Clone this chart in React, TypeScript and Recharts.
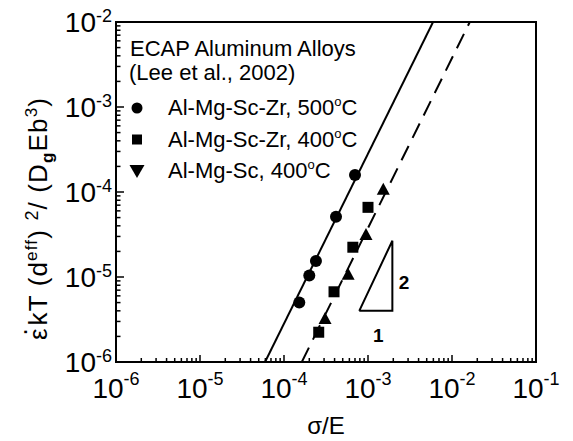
import {
  ComposedChart,
  Line,
  ReferenceArea,
  ReferenceDot,
  Scatter,
  XAxis,
  YAxis,
} from "recharts";

const FONT = '"Liberation Sans", Arial, sans-serif';

// axis decades (tick labels are 10^exp)
const xDecades = [1e-6, 1e-5, 1e-4, 1e-3, 1e-2, 1e-1];
const yDecades = [1e-6, 1e-5, 1e-4, 1e-3, 1e-2];
const minorSteps = [1, 2, 3, 4, 5, 6, 7, 8, 9];

// Lee et al., 2002 - ECAP aluminum alloys
const mgScZr500 = [
  { x: 1.52e-4, y: 5.0e-6 },
  { x: 2.0e-4, y: 1.04e-5 },
  { x: 2.4e-4, y: 1.54e-5 },
  { x: 4.16e-4, y: 5.1e-5 },
  { x: 7.0e-4, y: 1.58e-4 },
];
const mgScZr400 = [
  { x: 2.59e-4, y: 2.24e-6 },
  { x: 3.94e-4, y: 6.7e-6 },
  { x: 6.6e-4, y: 2.24e-5 },
  { x: 1.0e-3, y: 6.6e-5 },
];
const mgSc400 = [
  { x: 3.08e-4, y: 3.2e-6 },
  { x: 5.8e-4, y: 1.06e-5 },
  { x: 9.46e-4, y: 3.12e-5 },
  { x: 1.52e-3, y: 1.06e-4 },
];

// fitted lines, slope 2
const fit500 = [
  { x: 5.95e-5, y: 1e-6 },
  { x: 5.95e-3, y: 1e-2 },
];
const fit400 = [
  { x: 1.63e-4, y: 1e-6 },
  { x: 1.63e-2, y: 1e-2 },
];

// slope triangle + its labels
const slopeTriangle = [
  { x: 7.87e-4, y: 4.0e-6 },
  { x: 1.95e-3, y: 4.0e-6 },
  { x: 1.95e-3, y: 2.67e-5 },
  { x: 7.87e-4, y: 4.0e-6 },
];
const slopeLabels = [
  { x: 2.68e-3, y: 8.7e-6, text: "2" },
  { x: 1.33e-3, y: 2.1e-6, text: "1" },
];

const legendItems = [
  { label: "Al-Mg-Sc-Zr, 500", marker: "circle" },
  { label: "Al-Mg-Sc-Zr, 400", marker: "square" },
  { label: "Al-Mg-Sc, 400", marker: "triangleDown" },
];

const withMinors = (decades: number[]) =>
  decades.flatMap((d, i) =>
    i === decades.length - 1 ? [d] : minorSteps.map((m) => +(d * m).toPrecision(3))
  );
const xTicks = withMinors(xDecades);
const yTicks = withMinors(yDecades);

const isDecade = (v: number) => Math.abs(Math.log10(v) - Math.round(Math.log10(v))) < 1e-6;

function XTick(props: any) {
  const { x, y, payload } = props;
  const v = payload.value;
  const major = isDecade(v);
  return (
    <g>
      <line x1={x} x2={x} y1={y} y2={y - (major ? 7 : 4)} stroke="#000" strokeWidth={1.5} />
      {major && (
        <text x={x} y={y + 36} textAnchor="middle" fontFamily={FONT} fontSize={28} fill="#000">
          10
          <tspan dy={-13} fontSize={18}>{Math.round(Math.log10(v))}</tspan>
        </text>
      )}
    </g>
  );
}

function YTick(props: any) {
  const { x, y, payload } = props;
  const v = payload.value;
  const major = isDecade(v);
  return (
    <g>
      <line x1={x} x2={x + (major ? 8 : 4.5)} y1={y} y2={y} stroke="#000" strokeWidth={1.5} />
      {major && (
        <text x={x - 4} y={y + 10} textAnchor="end" fontFamily={FONT} fontSize={28} fill="#000">
          10
          <tspan dy={-10} fontSize={18}>{Math.round(Math.log10(v))}</tspan>
        </text>
      )}
    </g>
  );
}

const CircleDot = (p: any) => <circle cx={p.cx} cy={p.cy} r={6} fill="#000" />;
const SquareDot = (p: any) => (
  <rect x={p.cx - 5.5} y={p.cy - 5.5} width={11} height={11} fill="#000" />
);
const TriangleDot = (p: any) => (
  <path d={`M${p.cx},${p.cy - 7} L${p.cx + 6.5},${p.cy + 5} L${p.cx - 6.5},${p.cy + 5} Z`} fill="#000" />
);

function LegendMarker({ kind, cx, cy }: { kind: string; cx: number; cy: number }) {
  if (kind === "circle") return <circle cx={cx} cy={cy} r={5.5} fill="#000" />;
  if (kind === "square") return <rect x={cx - 5} y={cy - 5} width={10} height={10} fill="#000" />;
  return <path d={`M${cx - 7.5},${cy - 6} L${cx + 7.5},${cy - 6} L${cx},${cy + 7} Z`} fill="#000" />;
}

export default function App() {
  return (
    <div style={{ position: "absolute", left: 0, top: 0, width: 573, height: 441, background: "#fff" }}>
      <ComposedChart
        width={573}
        height={441}
        margin={{ top: 22, right: 37, bottom: 49, left: 56 }}
      >
        <XAxis
          type="number"
          dataKey="x"
          scale="log"
          domain={[1e-6, 1e-1]}
          ticks={xTicks}
          interval={0}
          tick={XTick}
          tickLine={false}
          tickSize={0}
          tickMargin={0}
          height={30}
          axisLine={{ stroke: "#000", strokeWidth: 2 }}
          allowDataOverflow
        />
        <YAxis
          type="number"
          dataKey="y"
          scale="log"
          domain={[1e-6, 1e-2]}
          ticks={yTicks}
          interval={0}
          tick={YTick}
          tickLine={false}
          tickSize={0}
          tickMargin={0}
          width={60}
          axisLine={{ stroke: "#000", strokeWidth: 2 }}
          allowDataOverflow
        />
        <ReferenceArea
          x1={1e-6}
          x2={1e-1}
          y1={1e-6}
          y2={1e-2}
          fill="none"
          stroke="#000"
          strokeWidth={2}
        />
        <Line data={fit500} dataKey="y" type="linear" stroke="#000" strokeWidth={2} dot={false} isAnimationActive={false} />
        <Line
          data={fit400}
          dataKey="y"
          type="linear"
          stroke="#000"
          strokeWidth={2}
          strokeDasharray="16 9"
          dot={false}
          isAnimationActive={false}
        />
        <Line data={slopeTriangle} dataKey="y" type="linear" stroke="#000" strokeWidth={2} dot={false} isAnimationActive={false} />
        <Scatter data={mgScZr500} shape={CircleDot} isAnimationActive={false} />
        <Scatter data={mgScZr400} shape={SquareDot} isAnimationActive={false} />
        <Scatter data={mgSc400} shape={TriangleDot} isAnimationActive={false} />
        {slopeLabels.map((l) => (
          <ReferenceDot
            key={l.text}
            x={l.x}
            y={l.y}
            r={0}
            shape={(p: any) => (
              <text x={p.cx} y={p.cy + 7} textAnchor="middle" fontFamily={FONT} fontSize={19} fontWeight="bold" fill="#000">
                {l.text}
              </text>
            )}
          />
        ))}
      </ComposedChart>

      <svg
        width={573}
        height={441}
        style={{ position: "absolute", left: 0, top: 0, pointerEvents: "none" }}
        fontFamily={FONT}
        fill="#000"
      >
        <text x={130} y={56} fontSize={22}>ECAP Aluminum Alloys</text>
        <text x={129} y={80} fontSize={22}>(Lee et al., 2002)</text>
        {legendItems.map((item, i) => (
          <g key={item.label}>
            <LegendMarker kind={item.marker} cx={137} cy={108 + i * 31.5} />
            <text x={168} y={115 + i * 31.5} fontSize={22}>
              {item.label}
              <tspan dy={-9} fontSize={13}>o</tspan>
              <tspan dy={9}>C</tspan>
            </text>
          </g>
        ))}

        <text x={326} y={434} fontSize={24} textAnchor="middle">σ/E</text>

        <text
          transform="translate(47,219) rotate(-90)"
          fontSize={26}
          textAnchor="middle"
          textLength={242}
          lengthAdjust="spacing"
        >
          <tspan>ε</tspan>
          <tspan dx={-9} dy={-14}>·</tspan>
          <tspan dx={1} dy={14}>kT (d</tspan>
          <tspan dy={-10} fontSize={17}>eff</tspan>
          <tspan dy={10}>) </tspan>
          <tspan dy={-9} fontSize={18}>2</tspan>
          <tspan dy={9}>/ (D</tspan>
          <tspan dy={6} fontSize={17} fontWeight="bold">g</tspan>
          <tspan dy={-6}>Eb</tspan>
          <tspan dy={-10} fontSize={17}>3</tspan>
          <tspan dy={10}>)</tspan>
        </text>
      </svg>
    </div>
  );
}
